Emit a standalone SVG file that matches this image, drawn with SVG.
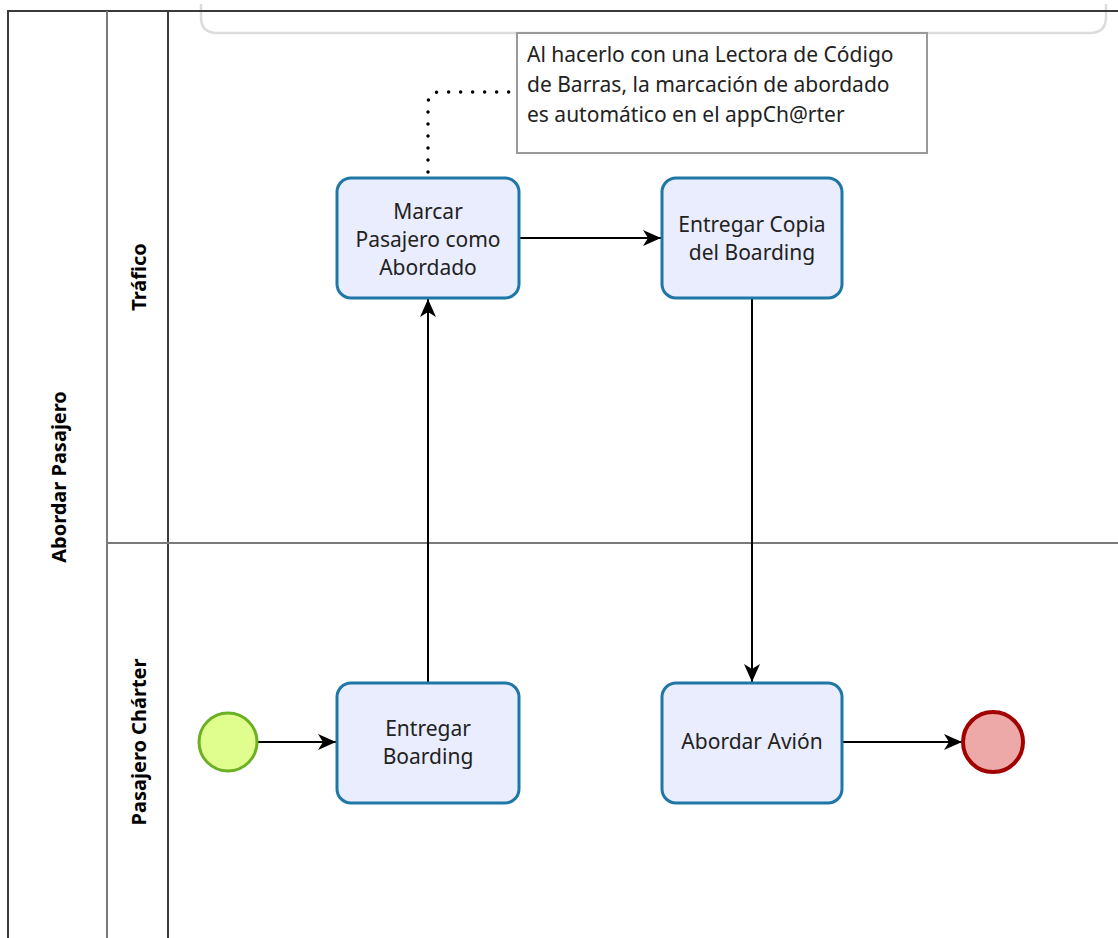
<svg xmlns="http://www.w3.org/2000/svg" width="1118" height="938" viewBox="0 0 1118 938">
  <defs>
    <marker id="arrow" viewBox="0 0 20 20" refX="19" refY="10" markerWidth="20" markerHeight="20" markerUnits="userSpaceOnUse" orient="auto">
      <path d="M1,2 L19,10 L1,18 L6,10 Z" fill="#000"/>
    </marker>
    <style>
      .pool { stroke: #3a3a3a; stroke-width: 2; fill: none; }
      .lane { stroke: #7a7a7a; stroke-width: 2; fill: none; }
      .lbl { font-family: "Noto Sans", "Open Sans", sans-serif; font-weight: bold; font-size: 20px; fill: #000; text-anchor: middle; dominant-baseline: central; }
      .task rect { fill: #e9edfd; stroke: #1f77a6; stroke-width: 3; }
      .task text, .note text { font-family: "Noto Sans", "Open Sans", sans-serif; font-size: 21px; fill: #222; }
      .task text { text-anchor: middle; dominant-baseline: central; }
      .flow { stroke: #000; stroke-width: 2; fill: none; marker-end: url(#arrow); }
      .assoc { stroke: #000; stroke-width: 3.5; stroke-linecap: round; stroke-dasharray: 0 12; fill: none; }
    </style>
  </defs>

  <rect width="1118" height="938" fill="#fff"/>

  <!-- group container bracket at the top -->
  <path d="M201,4 V17 Q201,33 217,33 H1090 Q1106,33 1106,17 V4" fill="none" stroke="#dcdcdc" stroke-width="2.5"/>

  <!-- pool and lanes -->
  <g id="pool">
    <path class="pool" d="M8,938 V11 H1118"/>
    <line class="lane" x1="107" y1="11" x2="107" y2="938"/>
    <line class="pool" x1="168" y1="11" x2="168" y2="938"/>
    <line class="lane" x1="107" y1="543" x2="1118" y2="543"/>
    <text class="lbl" transform="translate(58,477) rotate(-90)">Abordar Pasajero</text>
    <text class="lbl" transform="translate(138,277) rotate(-90)">Tráfico</text>
    <text class="lbl" transform="translate(138,742) rotate(-90)">Pasajero Chárter</text>
  </g>

  <!-- connectors -->
  <g id="connectors">
    <path class="assoc" d="M428,172 V104 Q428,92 440,92 H517"/>
    <path class="flow" d="M258,742 H336"/>
    <path class="flow" d="M428,683 V299"/>
    <path class="flow" d="M519,238 H661"/>
    <path class="flow" d="M752,298 V682"/>
    <path class="flow" d="M842,742 H962"/>
  </g>

  <!-- text annotation -->
  <g id="note" class="note">
    <rect x="517" y="33" width="410" height="120" fill="#fff" stroke="#9a9a9a" stroke-width="2"/>
    <text x="527" y="62">Al hacerlo con una Lectora de Código</text>
    <text x="527" y="92">de Barras, la marcación de abordado</text>
    <text x="527" y="122">es automático en el appCh@rter</text>
  </g>

  <g id="marcar" class="task">
    <rect x="337" y="178" width="182" height="120" rx="14"/>
    <text x="428" y="211">Marcar</text>
    <text x="428" y="239">Pasajero como</text>
    <text x="428" y="267">Abordado</text>
  </g>

  <g id="entregar-copia" class="task">
    <rect x="662" y="178" width="180" height="120" rx="14"/>
    <text x="752" y="224">Entregar Copia</text>
    <text x="752" y="252">del Boarding</text>
  </g>

  <g id="entregar-boarding" class="task">
    <rect x="337" y="683" width="182" height="120" rx="14"/>
    <text x="428" y="728">Entregar</text>
    <text x="428" y="756">Boarding</text>
  </g>

  <g id="abordar-avion" class="task">
    <rect x="662" y="683" width="180" height="120" rx="14"/>
    <text x="752" y="741">Abordar Avión</text>
  </g>

  <g id="start">
    <circle cx="228" cy="742" r="29" fill="#e0fe8e" stroke="#6cb024" stroke-width="3"/>
  </g>

  <g id="end">
    <circle cx="993" cy="742" r="30" fill="#eda8a8" stroke="#a30000" stroke-width="4"/>
  </g>
</svg>
